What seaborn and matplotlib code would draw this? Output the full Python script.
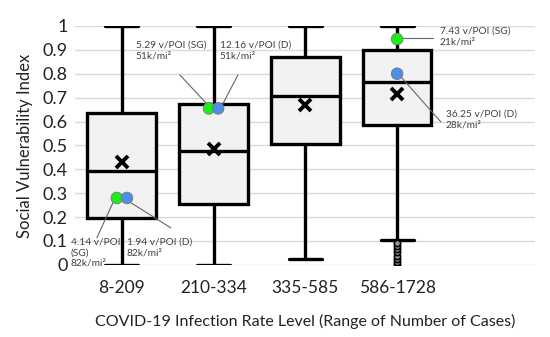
import matplotlib
matplotlib.use('Agg')
import matplotlib.pyplot as plt
import seaborn as sns
import pandas as pd

# box statistics
groups = ['8-209', '210-334', '335-585', '586-1728']
q1 = [0.195, 0.255, 0.505, 0.585]
medians = [0.395, 0.475, 0.705, 0.765]
q3 = [0.635, 0.675, 0.87, 0.90]
whisker_lo = [0.0, 0.0, 0.025, 0.105]
whisker_hi = [1.0, 1.0, 1.0, 1.0]
means = [0.43, 0.485, 0.67, 0.715]
fliers = [[], [], [], [0.0, 0.013, 0.026, 0.039, 0.052, 0.065, 0.078, 0.091]]

# highlighted cities (SG = SafeGraph, D = Descartes)
pt_group = [0, 0, 1, 1, 3, 3]
pt_source = ['SG', 'D', 'SG', 'D', 'SG', 'D']
pt_value = [0.28, 0.28, 0.655, 0.655, 0.945, 0.80]
pt_label = ['4.14 v/POI\n(SG)\n82k/mi²', '1.94 v/POI (D)\n82k/mi²',
            '5.29 v/POI (SG)\n51k/mi²', '12.16 v/POI (D)\n51k/mi²',
            '7.43 v/POI (SG)\n21k/mi²', '36.25 v/POI (D)\n28k/mi²']

sns.set_style('white')
plt.rcParams['font.family'] = ['Lato', 'DejaVu Sans']

fig = plt.figure(figsize=(5.5, 3.37), dpi=100)
ax = fig.add_axes([0.136, 0.214, 0.837, 0.709])

stats = []
for i, g in enumerate(groups):
    stats.append(dict(label=g, q1=q1[i], med=medians[i], q3=q3[i],
                      whislo=whisker_lo[i], whishi=whisker_hi[i],
                      mean=means[i], fliers=fliers[i]))

lw = 2.4
ax.bxp(stats, positions=range(1, 5), widths=0.75, capwidths=0.36,
       showmeans=True, patch_artist=True,
       boxprops=dict(facecolor='#f2f2f2', edgecolor='black', linewidth=lw),
       medianprops=dict(color='black', linewidth=lw),
       whiskerprops=dict(color='black', linewidth=lw),
       capprops=dict(color='black', linewidth=lw),
       meanprops=dict(marker='x', markeredgecolor='black', markersize=8,
                      markeredgewidth=2.8),
       flierprops=dict(marker='o', markersize=4.5, markerfacecolor='#999999',
                       markeredgecolor='black', markeredgewidth=1.2),
       zorder=3)

# small horizontal dodge for the pairs that sit side by side
dodge = {0: 0.055, 1: 0.05, 3: 0.0}
pts = pd.DataFrame(dict(group=pt_group, source=pt_source, value=pt_value))
pts['x'] = [g + 1 + (-dodge[g] if s == 'SG' else dodge[g])
            for g, s in zip(pts['group'], pts['source'])]
sns.scatterplot(data=pts, x='x', y='value', hue='source',
                palette={'SG': '#1aef1a', 'D': '#4d8fe8'}, s=70,
                edgecolor='#777777', linewidth=0.6, legend=False,
                ax=ax, zorder=5, clip_on=False)

# label placement (text left/top) and leader lines, per point
text_xy = [(0.443, 0.113), (1.054, 0.113), (1.152, 0.937),
           (2.068, 0.937), (4.467, 0.996), (4.533, 0.649)]
line_from = [(0.912, 0.268), (1.065, 0.268), (1.926, 0.674),
             (2.101, 0.674), (4.053, 0.95), (4.042, 0.787)]
line_to = [(0.727, 0.113), (1.534, 0.155), (1.632, 0.795),
           (2.265, 0.795), (4.391, 0.95), (4.478, 0.598)]
for lab, (tx, ty), (ax0, ay0), (ax1, ay1) in zip(pt_label, text_xy, line_from, line_to):
    ax.plot([ax0, ax1], [ay0, ay1], color='#666666', lw=0.8, zorder=4,
            clip_on=False)
    ax.text(tx, ty, lab, ha='left', va='top', fontsize=7.3, color='#404040',
            zorder=6, clip_on=False)

ax.set_xlim(0.487, 5.505)
ax.set_ylim(0, 1)
ax.set_yticks([i / 10 for i in range(11)])
ax.set_yticklabels(['0'] + [f'{i / 10:.1f}' for i in range(1, 10)] + ['1'])
ax.set_xticks(range(1, 5))
ax.set_xticklabels(groups)
ax.grid(axis='y', color='#d9d9d9', lw=1, zorder=0)
ax.grid(axis='x', visible=False)
ax.set_axisbelow(True)
for s in ax.spines.values():
    s.set_visible(False)
ax.tick_params(length=0, colors='#222222')
ax.tick_params(axis='y', labelsize=13, pad=5)
ax.tick_params(axis='x', labelsize=12.5, pad=11)
ax.set_xlabel('COVID-19 Infection Rate Level (Range of Number of Cases)',
              fontsize=11.5, color='#222222', labelpad=13)
ax.set_ylabel('Social Vulnerability Index', fontsize=12, color='#222222',
              labelpad=7)

fig.savefig('out.png', dpi=100)
